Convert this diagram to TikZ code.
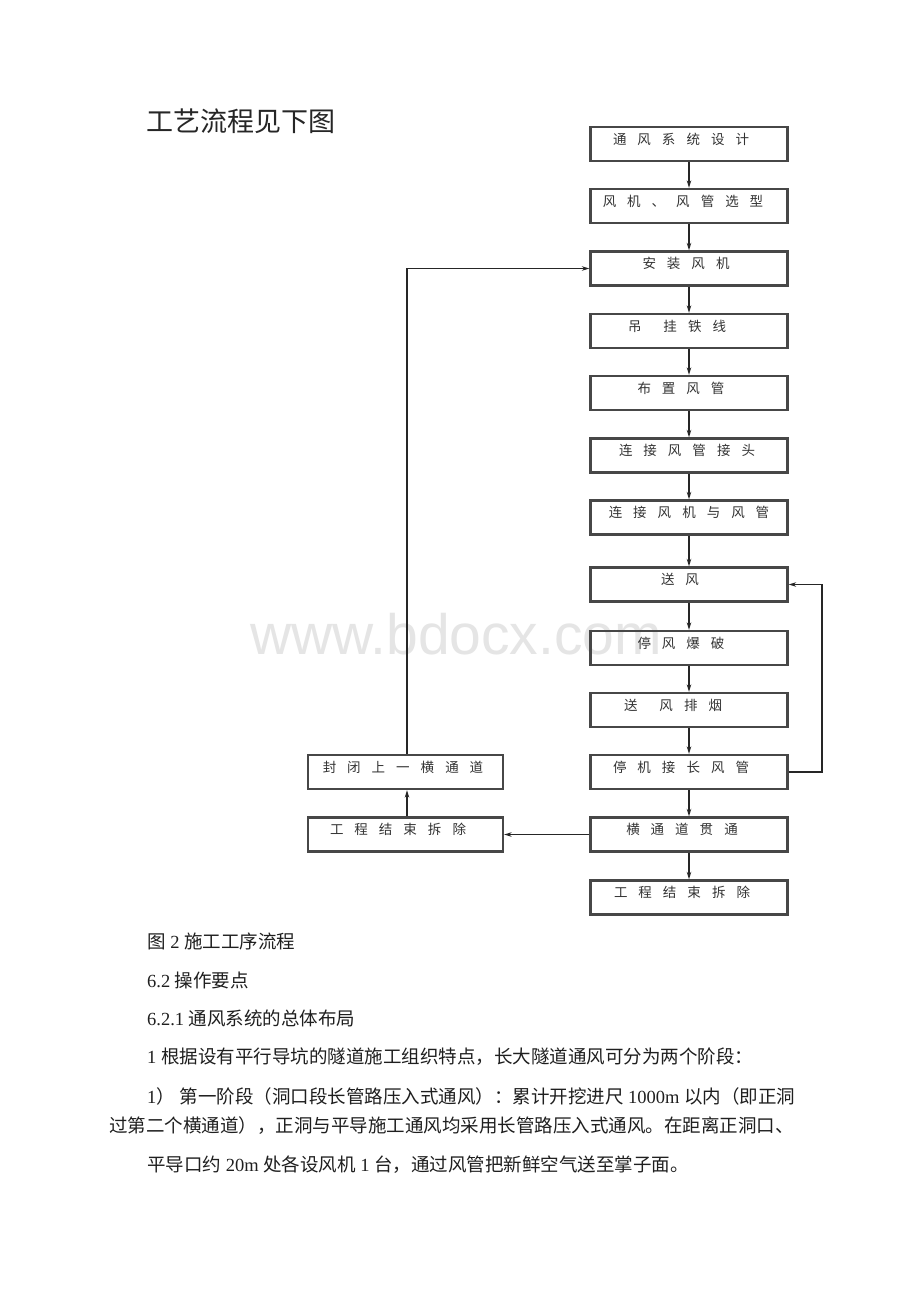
\documentclass[tikz,border=0pt]{standalone}
\usepackage{fontspec}
\setmainfont{Noto Sans CJK SC}
\newfontfamily\lat{Liberation Serif}
\newfontfamily\wmfont{Liberation Sans}
\usetikzlibrary{arrows.meta}
\newcommand\gs{\hspace{11pt}}
\begin{document}
\begin{tikzpicture}[x=1pt,y=-1pt,
  box/.style={draw=black!72, line width=2.3pt, minimum width=197pt, minimum height=34pt, inner sep=0pt},
  lbl/.style={font=\fontsize{13.5}{13.5}\selectfont, text=black!80, inner sep=0pt},
  body/.style={font=\fontsize{18.5}{18.5}\selectfont, text=black!88, inner sep=0pt, anchor=west},
  ar/.style={draw=black!85, line width=1.3pt, -{Stealth[length=7.5pt,width=4.5pt]}}]
\useasboundingbox (0,0) rectangle (920,1302);
\fill[white] (0,0) rectangle (920,1302);
% watermark
\node[anchor=base west, inner sep=0pt, font=\wmfont\fontsize{57}{57}\selectfont, text=black!10] (wm) at (250,654) {www.bdocx.com};
% title
\node[anchor=west, inner sep=0pt, font=\fontsize{27}{27}\selectfont, text=black!85] (title) at (146,121) {工艺流程见下图};
% right column boxes
\node[box] (b1) at (689,144) {};
\node[box] (b2) at (689,206) {};
\node[box] (b3) at (689,268.5) {};
\node[box] (b4) at (689,331) {};
\node[box] (b5) at (689,393) {};
\node[box] (b6) at (689,455.5) {};
\node[box] (b7) at (689,517.5) {};
\node[box] (b8) at (689,584.5) {};
\node[box] (b9) at (689,648) {};
\node[box] (b10) at (689,710) {};
\node[box] (b11) at (689,772) {};
\node[box] (b12) at (689,834.5) {};
\node[box] (b13) at (689,897.5) {};
% left column boxes
\node[box, minimum width=195pt] (l1) at (405.5,772) {};
\node[box, minimum width=195pt] (l2) at (405.5,834.5) {};
% labels
\node[lbl] (t1) at (681,139) {通\gs 风\gs 系\gs 统\gs 设\gs 计};
\node[lbl] (t2) at (683,201) {风\gs 机\gs 、\gs 风\gs 管\gs 选\gs 型};
\node[lbl] (t3) at (686,263.5) {安\gs 装\gs 风\gs 机};
\node[lbl] (t4) at (677,326) {吊\gs\gs 挂\gs 铁\gs 线};
\node[lbl] (t5) at (681,388) {布\gs 置\gs 风\gs 管};
\node[lbl] (t6) at (687,450.5) {连\gs 接\gs 风\gs 管\gs 接\gs 头};
\node[lbl] (t7) at (689,512.5) {连\gs 接\gs 风\gs 机\gs 与\gs 风\gs 管};
\node[lbl] (t8) at (680,579.5) {送\gs 风};
\node[lbl] (t9) at (681,643) {停\gs 风\gs 爆\gs 破};
\node[lbl] (t10) at (673,705) {送\gs\gs 风\gs 排\gs 烟};
\node[lbl] (t11) at (681,767) {停\gs 机\gs 接\gs 长\gs 风\gs 管};
\node[lbl] (t12) at (682,829.5) {横\gs 通\gs 道\gs 贯\gs 通};
\node[lbl] (t13) at (682,892.5) {工\gs 程\gs 结\gs 束\gs 拆\gs 除};
\node[lbl] (tl1) at (403,767) {封\gs 闭\gs 上\gs 一\gs 横\gs 通\gs 道};
\node[lbl] (tl2) at (398,829.5) {工\gs 程\gs 结\gs 束\gs 拆\gs 除};
% vertical arrows
\foreach \a/\b in {b1/b2,b2/b3,b3/b4,b4/b5,b5/b6,b6/b7,b7/b8,b8/b9,b9/b10,b10/b11,b11/b12,b12/b13}
  \draw[ar] (\a.south) -- (\b.north);
% loops
\coordinate (lc) at (407,268.5);
\draw[ar] ([xshift=1.5pt]l1.north) -- (lc) -- (b3.west);
\coordinate (rc1) at (822,772);
\coordinate (rc2) at (822,584.5);
\draw[ar] (b11.east) -- (rc1) -- (rc2) -- (b8.east);
\draw[ar] (b12.west) -- (l2.east);
\draw[ar] ([xshift=1.5pt]l2.north) -- ([xshift=1.5pt]l1.south);
% body text
\node[body] (p1) at (147,941) {图{\lat\ 2 }施工工序流程};
\node[body] (p2) at (147,980) {{\lat 6.2 }操作要点};
\node[body] (p3) at (147,1018) {{\lat 6.2.1 }通风系统的总体布局};
\node[body] (p4) at (147,1057) {{\lat 1 }根据设有平行导坑的隧道施工组织特点，长大隧道通风可分为两个阶段：};
\node[body] (p5) at (147,1096) {{\lat 1}）{\lat\ }第一阶段（洞口段长管路压入式通风）：累计开挖进尺{\lat\ 1000m }以内（即正洞};
\node[body] (p6) at (109,1126) {过第二个横通道），正洞与平导施工通风均采用长管路压入式通风。在距离正洞口、};
\node[body] (p7) at (147,1165) {平导口约{\lat\ 20m }处各设风机{\lat\ 1 }台，通过风管把新鲜空气送至掌子面。};
\end{tikzpicture}
\end{document}
